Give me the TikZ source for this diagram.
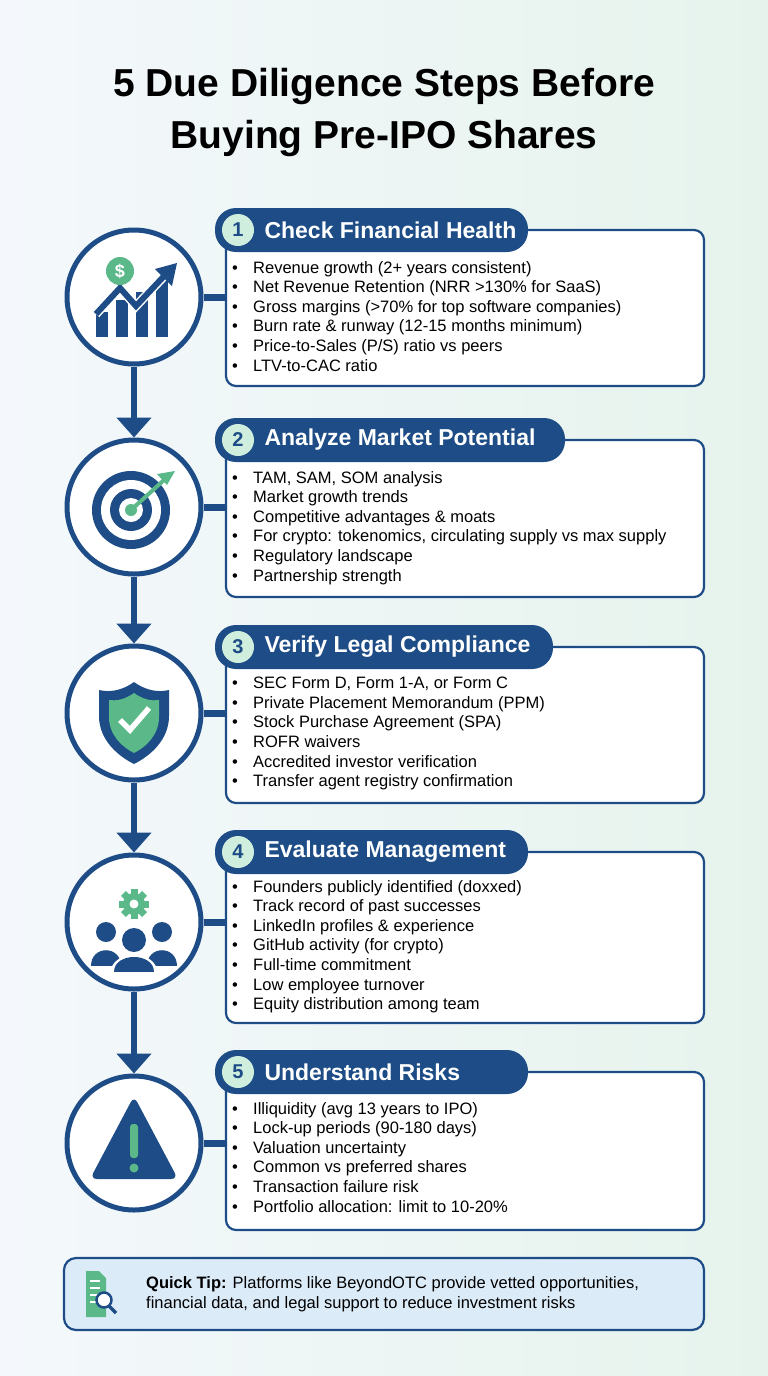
\documentclass[tikz,border=0pt]{standalone}
\usepackage{fontspec}
\setmainfont{Liberation Sans}
\usetikzlibrary{arrows.meta,calc}
\definecolor{navy}{HTML}{1D4C86}
\definecolor{grn}{HTML}{5BB889}
\definecolor{lgrn}{HTML}{CFEEDD}
\definecolor{bgA}{HTML}{F4F8FC}
\definecolor{bgB}{HTML}{E6F3EC}
\definecolor{tipbg}{HTML}{DCEBF8}
\tikzset{
 x=1pt,y=-1pt,
 card/.style={draw=navy,line width=2.2pt,fill=white,rounded corners=10pt},
 ring/.style={draw=navy,line width=5pt,fill=white,circle,minimum size=134pt,inner sep=0},
 num/.style={circle,fill=lgrn,minimum size=32pt,inner sep=0,text=navy,font=\fontsize{20}{20}\selectfont\bfseries},
 ptitle/.style={text=white,font=\fontsize{23}{23}\selectfont\bfseries,anchor=west},
 items/.style={anchor=north west,align=left,font=\fontsize{16.5}{19.6}\selectfont,text=black,inner sep=0},
 flow/.style={draw=navy,line width=6pt,-{Triangle[length=20pt,width=34pt]}},
 link/.style={draw=navy,line width=7pt},
}
\newcommand{\bl}{\makebox[21pt][l]{•}}
\newcommand{\stepblock}[7]{%
 \draw[card] (226,#2) rectangle (704,#3);
 \node[ring] (c#1) at (134,#4) {};
 \coordinate (e#1) at (226,#4);
 \draw[link] (c#1.east) -- (e#1);
 \fill[navy,rounded corners=21pt] (215,#2-22) rectangle (#7,#2+22);
 \node[num] (n#1) at (238,#2) {#5};
 \node[ptitle] (t#1) at (261,#2) {#6};
}
\begin{document}
\begin{tikzpicture}
\shade[left color=bgA,right color=bgB] (0,0) rectangle (768,1376);
\useasboundingbox (0,0) rectangle (768,1376);
\node[font=\fontsize{39}{52}\selectfont\bfseries,align=center] (title) at (384,112) {5 Due Diligence Steps Before\\Buying Pre-IPO Shares};

\stepblock{1}{230}{386}{297}{1}{Check Financial Health}{528}
\stepblock{2}{440}{597}{507}{2}{Analyze Market Potential}{565}
\stepblock{3}{647}{803}{713}{3}{Verify Legal Compliance}{553}
\stepblock{4}{852}{1023}{922}{4}{Evaluate Management}{528}
\stepblock{5}{1072}{1230}{1143}{5}{Understand Risks}{528}

\draw[flow] (c1.south) -- (c2.north);
\draw[flow] (c2.south) -- (c3.north);
\draw[flow] (c3.south) -- (c4.north);
\draw[flow] (c4.south) -- (c5.north);

\node[items] (l1) at (232,261) {\bl Revenue growth (2+ years consistent)\\\bl Net Revenue Retention (NRR >130\% for SaaS)\\\bl Gross margins (>70\% for top software companies)\\\bl Burn rate \& runway (12-15 months minimum)\\\bl Price-to-Sales (P/S) ratio vs peers\\\bl LTV-to-CAC ratio};
\node[items] (l2) at (232,471) {\bl TAM, SAM, SOM analysis\\\bl Market growth trends\\\bl Competitive advantages \& moats\\\bl For crypto: tokenomics, circulating supply vs max supply\\\bl Regulatory landscape\\\bl Partnership strength};
\node[items] (l3) at (232,677) {\bl SEC Form D, Form 1-A, or Form C\\\bl Private Placement Memorandum (PPM)\\\bl Stock Purchase Agreement (SPA)\\\bl ROFR waivers\\\bl Accredited investor verification\\\bl Transfer agent registry confirmation};
\node[items] (l4) at (232,880) {\bl Founders publicly identified (doxxed)\\\bl Track record of past successes\\\bl LinkedIn profiles \& experience\\\bl GitHub activity (for crypto)\\\bl Full-time commitment\\\bl Low employee turnover\\\bl Equity distribution among team};
\node[items] (l5) at (232,1102) {\bl Illiquidity (avg 13 years to IPO)\\\bl Lock-up periods (90-180 days)\\\bl Valuation uncertainty\\\bl Common vs preferred shares\\\bl Transaction failure risk\\\bl Portfolio allocation: limit to 10-20\%};

% icon 1: chart
\fill[navy] (96,312) rectangle (108,337);
\fill[navy] (116,300) rectangle (128,337);
\fill[navy] (136,292) rectangle (148,337);
\fill[navy] (156,278) rectangle (168,337);
\draw[white,line width=9pt,line join=miter] (96,314) -- (120,288) -- (136,306) -- (168,272);
\draw[navy,line width=6pt,line join=miter] (96,314) -- (120,288) -- (136,306) -- (166,274);
\fill[navy] (177,263) -- (155,269) -- (172,286) -- cycle;
\fill[grn] (120,271) circle (14);
\node[white,font=\fontsize{18}{18}\selectfont\bfseries] (dol) at (120,271) {\$};
% icon 2: target
\fill[navy] (131,510) circle (39);
\fill[white] (131,510) circle (30);
\fill[navy] (131,510) circle (21);
\fill[white] (131,510) circle (12);
\fill[grn] (131,510) circle (6);
\draw[grn,line width=4pt] (131,510) -- (164,480);
\fill[grn] (175,471) -- (157,474) -- (167,485) -- cycle;
% icon 3: shield
\fill[navy] (134,682) .. controls (120,692) and (108,692) .. (99,690) -- (99,716) .. controls (99,740) and (118,756) .. (134,764) .. controls (150,756) and (169,740) .. (169,716) -- (169,690) .. controls (160,692) and (148,692) .. (134,682) -- cycle;
\fill[grn] (134,693) .. controls (124,700) and (116,701) .. (109,700) -- (109,717) .. controls (109,735) and (122,747) .. (134,753) .. controls (146,747) and (159,735) .. (159,717) -- (159,700) .. controls (152,701) and (144,700) .. (134,693) -- cycle;
\draw[white,line width=5.5pt] (120,720) -- (130,730) -- (149,708);
% icon 4: people with gear
\foreach \a in {0,45,...,315} \fill[grn,rotate around={\a:(134,904)}] (130.5,889) rectangle (137.5,900);
\fill[grn] (134,904) circle (11);
\fill[white] (134,904) circle (4.5);
\fill[navy] (106,932) circle (10);
\fill[navy] (162,932) circle (10);
\fill[navy] (91,966) .. controls (91,945) and (121,945) .. (121,966) -- cycle;
\fill[navy] (147,966) .. controls (147,945) and (177,945) .. (177,966) -- cycle;
\fill[white] (134,940) circle (15);
\fill[navy] (134,940) circle (12);
\fill[white] (110,975) .. controls (110,948) and (158,948) .. (158,975) -- cycle;
\fill[navy] (114,972) .. controls (114,952) and (154,952) .. (154,972) -- cycle;
% icon 5: warning
\fill[navy,rounded corners=7pt] (134,1096) -- (178,1179) -- (90,1179) -- cycle;
\fill[grn,rounded corners=3pt] (130,1124) rectangle (138,1158);
\fill[grn] (134,1168) circle (4.5);

% quick tip
\draw[draw=navy,line width=2.2pt,fill=tipbg,rounded corners=12pt] (64,1258) rectangle (704,1330);
\fill[grn] (86,1271) -- (99,1271) -- (106,1278) -- (106,1317) -- (86,1317) -- cycle;
\foreach \yy in {1281,1288,1295,1302} \draw[white,line width=1.5pt] (90,\yy) -- (100,\yy);
\draw[navy,line width=2.5pt,fill=white] (104,1300) circle (7.5);
\draw[navy,line width=3.5pt] (109,1306) -- (116,1313);
\node[anchor=west,align=left,font=\fontsize{16.5}{20}\selectfont,inner sep=0] (tip) at (146,1294) {\textbf{Quick Tip:} Platforms like BeyondOTC provide vetted opportunities,\\financial data, and legal support to reduce investment risks};
\end{tikzpicture}
\end{document}
